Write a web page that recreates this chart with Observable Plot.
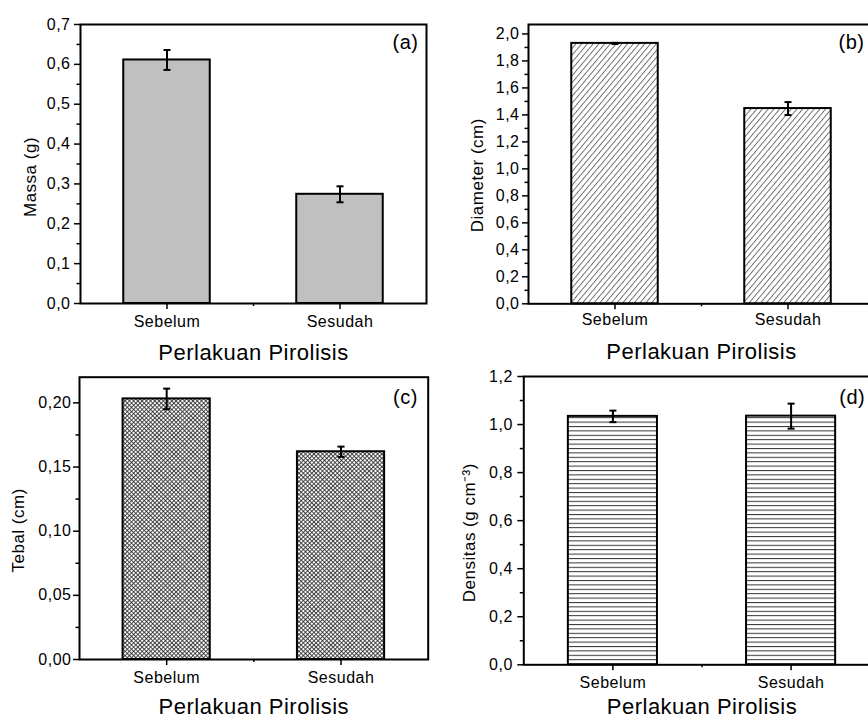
<!DOCTYPE html>
<html><head><meta charset="utf-8">
<script src="https://cdn.jsdelivr.net/npm/d3@7"></script>
<script src="https://cdn.jsdelivr.net/npm/@observablehq/plot@0.6"></script>
<style>
html,body{margin:0;padding:0;background:#fff;overflow:hidden;}
#wrap{position:relative;width:868px;height:719px;overflow:hidden;background:#fff;}
#wrap > svg{position:absolute;}
</style></head><body><div id="wrap"></div>
<script>
// ---- data ----
const categories = ["Sebelum", "Sesudah"];
const xLabel = "Perlakuan Pirolisis";

const massa = [0.611, 0.274];
const massaErr = [0.025, 0.020];
const massaTicks = [0, 0.1, 0.2, 0.3, 0.4, 0.5, 0.6, 0.7];
const massaTickLabels = ["0,0", "0,1", "0,2", "0,3", "0,4", "0,5", "0,6", "0,7"];
const massaMinor = [0.05, 0.15, 0.25, 0.35, 0.45, 0.55, 0.65];

const diameter = [1.930, 1.447];
const diameterErr = [0.004, 0.048];
const diameterTicks = [0, 0.2, 0.4, 0.6, 0.8, 1.0, 1.2, 1.4, 1.6, 1.8, 2.0];
const diameterTickLabels = ["0,0", "0,2", "0,4", "0,6", "0,8", "1,0", "1,2", "1,4", "1,6", "1,8", "2,0"];
const diameterMinor = [0.1, 0.3, 0.5, 0.7, 0.9, 1.1, 1.3, 1.5, 1.7, 1.9];

const tebal = [0.2031, 0.1619];
const tebalErr = [0.008, 0.004];
const tebalTicks = [0, 0.05, 0.10, 0.15, 0.20];
const tebalTickLabels = ["0,00", "0,05", "0,10", "0,15", "0,20"];
const tebalMinor = [0.025, 0.075, 0.125, 0.175];

const densitas = [1.034, 1.035];
const densitasErr = [0.024, 0.052];
const densitasTicks = [0, 0.2, 0.4, 0.6, 0.8, 1.0, 1.2];
const densitasTickLabels = ["0,0", "0,2", "0,4", "0,6", "0,8", "1,0", "1,2"];
const densitasMinor = [0.1, 0.3, 0.5, 0.7, 0.9, 1.1];

// ---- helpers ----
const capSymbol = {
  draw(ctx, size) {
    const r = Math.sqrt(size / Math.PI);
    ctx.moveTo(-r, 0);
    ctx.lineTo(r, 0);
  }
};

function addPatterns(svg) {
  const defs = d3.select(svg).insert("defs", ":first-child");
  const b = defs.append("pattern").attr("id", "hatchB").attr("patternUnits", "userSpaceOnUse")
    .attr("width", 4.4).attr("height", 10).attr("patternTransform", "rotate(40)");
  b.append("rect").attr("width", 4.4).attr("height", 10).attr("fill", "white");
  b.append("line").attr("x1", 0.5).attr("y1", 0).attr("x2", 0.5).attr("y2", 10)
    .attr("stroke", "#444").attr("stroke-width", 0.8);
  const c = defs.append("pattern").attr("id", "crossC").attr("patternUnits", "userSpaceOnUse")
    .attr("width", 3).attr("height", 3).attr("patternTransform", "rotate(45)");
  c.append("rect").attr("width", 3).attr("height", 3).attr("fill", "white");
  c.append("path").attr("d", "M0.5,0V3M0,0.5H3").attr("stroke", "#222").attr("stroke-width", 0.8);
  const d = defs.append("pattern").attr("id", "horizD").attr("patternUnits", "userSpaceOnUse")
    .attr("width", 10).attr("height", 4.4);
  d.append("rect").attr("width", 10).attr("height", 4.4).attr("fill", "white");
  d.append("line").attr("x1", 0).attr("y1", 0.5).attr("x2", 10).attr("y2", 0.5)
    .attr("stroke", "#333").attr("stroke-width", 1);
}

function panel(cfg) {
  const rows = categories.map((c, i) => ({cat: c, pos: i + 1, v: cfg.values[i], e: cfg.errs[i]}));
  const svg = Plot.plot({
    width: cfg.width, height: cfg.height,
    marginTop: cfg.m[0], marginRight: cfg.m[1], marginBottom: cfg.m[2], marginLeft: cfg.m[3],
    x: {domain: [0.5, 2.5]},
    y: {domain: cfg.yDomain},
    style: {fontFamily: "'Liberation Sans', Arial, sans-serif", fontSize: "16px", color: "black", background: "white", letterSpacing: "0.5px", overflow: "visible"},
    marks: [
      Plot.rect(rows, {x1: d => d.pos - 0.25, x2: d => d.pos + 0.25, y1: 0, y2: "v", fill: cfg.fill, stroke: "black", strokeWidth: 2}),
      Plot.ruleX(rows, {x: "pos", y1: d => d.v - d.e, y2: d => d.v + d.e, stroke: "black", strokeWidth: 2}),
      Plot.dot(rows, {x: "pos", y: d => d.v + d.e, symbol: capSymbol, r: 3.5, fill: "none", stroke: "black", strokeWidth: 2}),
      Plot.dot(rows, {x: "pos", y: d => d.v - d.e, symbol: capSymbol, r: 3.5, fill: "none", stroke: "black", strokeWidth: 2}),
      Plot.frame({stroke: "black", strokeWidth: 2}),
      Plot.axisY(cfg.ticks, {tickSize: 6, tickPadding: cfg.yPad, tickFormat: d => cfg.labels[cfg.ticks.indexOf(d)], fontSize: 16, strokeWidth: 1.5, label: null}),
      Plot.axisY(cfg.minor, {tickSize: 3.5, tickFormat: () => "", strokeWidth: 1.5, label: null}),
      Plot.axisX([1, 2], {tickSize: 6, tickPadding: cfg.xPad, tickFormat: d => categories[d - 1], fontSize: 16, strokeWidth: 1.5, label: null}),
      Plot.axisX([1.5], {tickSize: 3, tickFormat: () => "", strokeWidth: 1.5, label: null}),
      Plot.text([xLabel], {frameAnchor: "bottom", textAnchor: "middle", lineAnchor: "top", dy: cfg.xLabelDy, fontSize: 22}),
      Plot.text([cfg.yLabel], {frameAnchor: "left", textAnchor: "middle", rotate: -90, lineAnchor: "top", dx: -cfg.yLabelOffset, dy: cfg.yLabelDy, fontSize: 17}),
      Plot.text([cfg.tag], {frameAnchor: "top-right", textAnchor: "end", lineAnchor: "middle", dx: cfg.tagDx, dy: cfg.tagDy, fontSize: 20})
    ]
  });
  addPatterns(svg);
  svg.style.left = cfg.left + "px";
  svg.style.top = cfg.top + "px";
  svg.style.maxWidth = "none";
  document.getElementById("wrap").appendChild(svg);
}

panel({values: massa, errs: massaErr, ticks: massaTicks, labels: massaTickLabels, minor: massaMinor,
  yDomain: [0, 0.7], fill: "#c0c0c0", yLabel: "Massa (g)", tag: "(a)",
  width: 434, height: 360, m: [24, 8, 57, 80], yPad: 4, xPad: 6, xLabelDy: 41,
  yLabelOffset: 57, yLabelDy: 13, tagDx: -8, tagDy: 18, left: 0, top: 0});

panel({values: diameter, errs: diameterErr, ticks: diameterTicks, labels: diameterTickLabels, minor: diameterMinor,
  yDomain: [0, 2.07], fill: "url(#hatchB)", yLabel: "Diameter (cm)", tag: "(b)",
  width: 450, height: 360, m: [24, 10, 56.7, 94], yPad: 3, xPad: 4, xLabelDy: 40,
  yLabelOffset: 58, yLabelDy: 11, tagDx: -10, tagDy: 18.5, left: 434, top: 0});

panel({values: tebal, errs: tebalErr, ticks: tebalTicks, labels: tebalTickLabels, minor: tebalMinor,
  yDomain: [0, 0.22], fill: "url(#crossC)", yLabel: "Tebal (cm)", tag: "(c)",
  width: 434, height: 359, m: [16.7, 6.3, 60, 79], yPad: 2, xPad: 5.7, xLabelDy: 39,
  yLabelOffset: 68, yLabelDy: 12, tagDx: -10.4, tagDy: 20, left: 0, top: 360});

panel({values: densitas, errs: densitasErr, ticks: densitasTicks, labels: densitasTickLabels, minor: densitasMinor,
  yDomain: [0, 1.2], fill: "url(#horizD)", yLabel: "Densitas (g cm\u207B\u00B3)", tag: "(d)",
  width: 460, height: 359, m: [16, 14.3, 54.7, 89.3], yPad: 5, xPad: 5.7, xLabelDy: 33.7,
  yLabelOffset: 61, yLabelDy: 12, tagDx: -15, tagDy: 21.5, left: 434, top: 360});
</script>
</body></html>
